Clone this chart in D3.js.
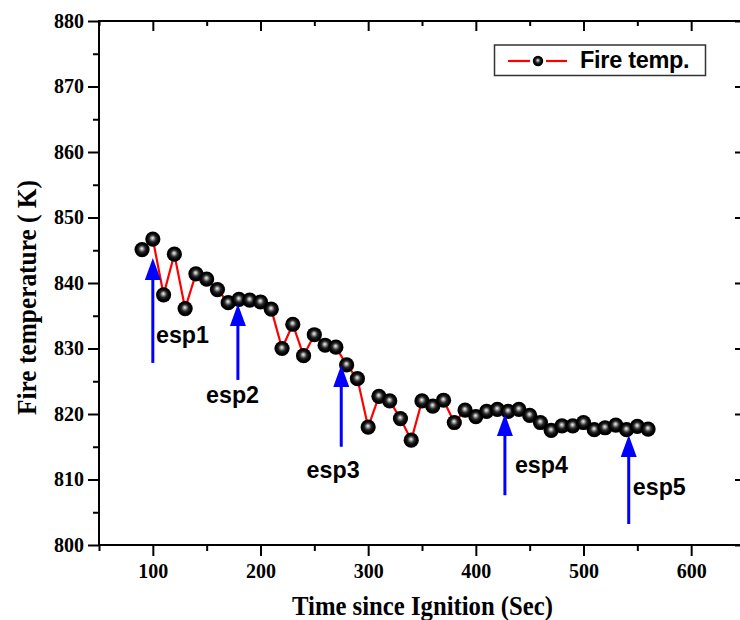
<!DOCTYPE html>
<html>
<head>
<meta charset="utf-8">
<script src="https://cdn.jsdelivr.net/npm/d3@7"></script>
<style>
  html, body { margin: 0; padding: 0; background: #fff; }
  svg { display: block; }
</style>
</head>
<body>
<svg id="chart" width="740" height="620"></svg>
<script>
// ---- data ----
const times = [90,100,110,120,130,140,150,160,170,180,190,200,210,220,230,240,250,260,270,280,290,300,310,320,330,340,350,360,370,380,390,400,410,420,430,440,450,460,470,480,490,500,510,520,530,540,550,560];
const fireTemp = [845.1,846.7,838.2,844.4,836.1,841.4,840.6,839.0,837.0,837.5,837.4,837.1,836.0,830.0,833.7,828.9,832.1,830.5,830.2,827.5,825.4,818.0,822.7,822.0,819.3,816.0,822.0,821.2,822.1,818.7,820.6,819.6,820.4,820.7,820.4,820.7,819.8,818.7,817.5,818.2,818.2,818.7,817.6,817.9,818.3,817.6,818.1,817.7];
const xTicks = [100,200,300,400,500,600];
const xMinorTicks = [50,150,250,350,450,550,650];
const yTicks = [800,810,820,830,840,850,860,870,880];
const yMinorTicks = [805,815,825,835,845,855,865,875];
const seriesName = "Fire temp.";
const xTitle = "Time since Ignition (Sec)";
const yTitle = "Fire temperature ( K)";
// annotations: label, arrow time, arrow tip temp, arrow tail temp, label time, label temp
const espLabels = ["esp1","esp2","esp3","esp4","esp5"];
const espTime = [100,179,275,427,542];
const espTip = [843.8,836.8,827.5,820.0,816.8];
const espTail = [827.8,825.2,815.0,807.6,803.2];
const espLabelTime = [102.9,149.4,242.8,436.3,545.8];
const espLabelTemp = [830.8,821.7,810.2,811.0,807.6];

// ---- layout ----
const svg = d3.select("#chart");
const x = d3.scaleLinear().domain([50,650]).range([99,745]);
const y = d3.scaleLinear().domain([800,880]).range([545,21]);
const serif = "'Liberation Serif','Times New Roman',serif";
const sans = "'Liberation Sans',Arial,sans-serif";

const defs = svg.append("defs");
const grad = defs.append("radialGradient").attr("id","ball")
  .attr("cx","50%").attr("cy","50%").attr("r","50%").attr("fx","48%").attr("fy","42%");
grad.append("stop").attr("offset","0%").attr("stop-color","#f4f4f4");
grad.append("stop").attr("offset","18%").attr("stop-color","#a8a8a8");
grad.append("stop").attr("offset","45%").attr("stop-color","#2a2a2a");
grad.append("stop").attr("offset","75%").attr("stop-color","#000");
grad.append("stop").attr("offset","100%").attr("stop-color","#000");

function styleAxis(g, showText) {
  g.select(".domain").remove();
  g.selectAll(".tick line").attr("stroke","#000").attr("stroke-width",2);
  g.selectAll("text").attr("font-family",serif).attr("font-weight","bold")
    .attr("font-size",20).attr("fill","#000");
  if (!showText) g.selectAll("text").remove();
}

// left axis
svg.append("g").attr("transform","translate(99,0)")
  .call(d3.axisLeft(y).tickValues(yTicks).tickSize(11).tickPadding(4).tickFormat(d3.format("d")))
  .call(g => styleAxis(g,true));
svg.append("g").attr("transform","translate(99,0)")
  .call(d3.axisLeft(y).tickValues(yMinorTicks).tickSize(6).tickFormat(""))
  .call(g => styleAxis(g,false));
// right axis (inward)
svg.append("g").attr("transform","translate(745,0)")
  .call(d3.axisLeft(y).tickValues(yTicks).tickSize(10).tickFormat(""))
  .call(g => styleAxis(g,false));
svg.append("g").attr("transform","translate(745,0)")
  .call(d3.axisLeft(y).tickValues(yMinorTicks).tickSize(5).tickFormat(""))
  .call(g => styleAxis(g,false));
// bottom axis
svg.append("g").attr("transform","translate(0,545)")
  .call(d3.axisBottom(x).tickValues(xTicks).tickSize(11).tickPadding(8).tickFormat(d3.format("d")))
  .call(g => styleAxis(g,true));
svg.append("g").attr("transform","translate(0,545)")
  .call(d3.axisBottom(x).tickValues(xMinorTicks).tickSize(6).tickFormat(""))
  .call(g => styleAxis(g,false));
// top axis (inward)
svg.append("g").attr("transform","translate(0,21)")
  .call(d3.axisBottom(x).tickValues(xTicks).tickSize(10).tickFormat(""))
  .call(g => styleAxis(g,false));
svg.append("g").attr("transform","translate(0,21)")
  .call(d3.axisBottom(x).tickValues(xMinorTicks).tickSize(5).tickFormat(""))
  .call(g => styleAxis(g,false));

// frame
svg.append("rect").attr("x",x(50)).attr("y",y(880))
  .attr("width",x(650)-x(50)).attr("height",y(800)-y(880))
  .attr("fill","none").attr("stroke","#000").attr("stroke-width",2);

// axis titles
svg.append("text").attr("x",422.5).attr("y",615)
  .attr("text-anchor","middle").attr("font-family",serif).attr("font-weight","bold")
  .attr("font-size",27).attr("textLength",261).attr("lengthAdjust","spacingAndGlyphs").text(xTitle);
svg.append("text").attr("transform","translate(36,297.5) rotate(-90)")
  .attr("text-anchor","middle").attr("font-family",serif).attr("font-weight","bold")
  .attr("font-size",27).attr("textLength",235).attr("lengthAdjust","spacingAndGlyphs").text(yTitle);

// series
const data = times.map((t,i) => ({t, v: fireTemp[i]}));
svg.append("path").datum(data)
  .attr("d", d3.line().x(d => x(d.t)).y(d => y(d.v)))
  .attr("fill","none").attr("stroke","#ff0000").attr("stroke-width",2.2);
svg.append("g").selectAll("circle").data(data).join("circle")
  .attr("cx", d => x(d.t)).attr("cy", d => y(d.v)).attr("r",7.6)
  .attr("fill","url(#ball)");

// annotations
const ann = svg.append("g");
espLabels.forEach((lab,i) => {
  const ax = x(espTime[i]), tipY = y(espTip[i]), tailY = y(espTail[i]);
  const headH = 22, headW = 8;
  ann.append("line").attr("x1",ax).attr("x2",ax).attr("y1",tailY).attr("y2",tipY+headH-1)
    .attr("stroke","#0000ff").attr("stroke-width",3);
  ann.append("path")
    .attr("d",`M${ax},${tipY} L${ax-headW},${tipY+headH} L${ax+headW},${tipY+headH} Z`)
    .attr("fill","#0000ff");
  ann.append("text").attr("x",x(espLabelTime[i])).attr("y",y(espLabelTemp[i]))
    .attr("font-family",sans).attr("font-weight","bold").attr("font-size",24)
    .attr("textLength",53).attr("lengthAdjust","spacingAndGlyphs")
    .attr("fill","#000").text(lab);
});

// legend
const lg = svg.append("g");
lg.append("rect").attr("x",494.5).attr("y",45).attr("width",211).attr("height",30.5)
  .attr("fill","#fff").attr("stroke","#333").attr("stroke-width",1.5);
lg.append("line").attr("x1",508).attr("x2",530).attr("y1",61).attr("y2",61)
  .attr("stroke","#ff0000").attr("stroke-width",2.2);
lg.append("line").attr("x1",546).attr("x2",567).attr("y1",61).attr("y2",61)
  .attr("stroke","#ff0000").attr("stroke-width",2.2);
lg.append("circle").attr("cx",538).attr("cy",61).attr("r",5.2).attr("fill","url(#ball)");
lg.append("text").attr("x",580).attr("y",68).attr("font-family",sans).attr("font-weight","bold")
  .attr("font-size",23.5).attr("letter-spacing",-0.3).attr("fill","#000").text(seriesName);
</script>
</body>
</html>
